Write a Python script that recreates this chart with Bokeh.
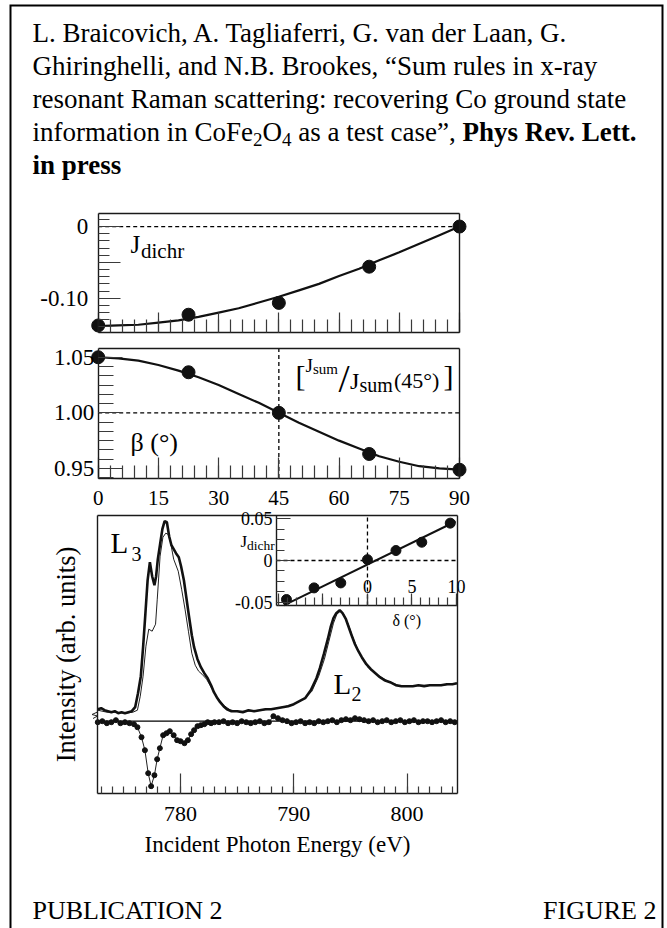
from bokeh.plotting import figure
from bokeh.models import Range1d, LinearAxis, FixedTicker, CustomJSTickFormatter
from bokeh.core.properties import value
from bokeh.embed import file_html
from bokeh.resources import INLINE

W, H = 667, 928
SERIF = "Liberation Serif"

# ---------------------------------------------------------------- data
# Panel 1 : J_dichr versus beta
beta_pts = [0, 22.5, 45, 67.5, 90]
jdichr_pts = [-0.138, -0.123, -0.1065, -0.056, 0.0]
beta_fit = [0, 5, 10, 15, 20, 25, 30, 35, 40, 45, 50, 55, 60, 65, 70, 75, 80, 85, 90]
jdichr_fit = [-0.139, -0.138, -0.137, -0.134, -0.131, -0.126, -0.120, -0.114, -0.106, -0.098,
              -0.089, -0.080, -0.069, -0.059, -0.047, -0.036, -0.024, -0.012, 0.000]

# Panel 2 : J_sum / J_sum(45) versus beta
jsum_pts = [1.050, 1.0365, 1.000, 0.963, 0.9488]
jsum_fit = [1.050, 1.049, 1.047, 1.043, 1.038, 1.032, 1.025, 1.017, 1.009, 1.000,
            0.991, 0.983, 0.975, 0.968, 0.961, 0.956, 0.952, 0.950, 0.949]

# Inset : J_dichr versus delta
delta_pts = [-9.1, -6.0, -3.0, 0.0, 3.2, 6.1, 9.3]
jdelta_pts = [-0.047, -0.033, -0.027, 0.001, 0.012, 0.022, 0.045]
delta_fit = [-9.4, 9.9]
jdelta_fit = [-0.054, 0.047]

# Main panel : spectra (thick and thin) and dichroism (dots)
E_thick = [772.7, 773.0, 773.3, 773.6, 773.9, 774.2, 774.5, 774.8, 775.1, 775.4,
           775.7, 776.0, 776.25, 776.5, 776.7, 776.9, 777.1, 777.3, 777.5, 777.7,
           777.85, 778.0, 778.2, 778.4, 778.6, 778.8, 779.0, 779.2, 779.4, 779.6,
           779.85, 780.05, 780.3, 780.5, 780.75, 781.0, 781.2, 781.5, 781.8, 782.1,
           782.4, 782.7, 782.95, 783.2, 783.5, 783.8, 784.1, 784.5, 785.0, 785.5,
           786.0, 786.5, 787.0, 787.5, 788.0, 788.5, 789.0, 789.5, 790.0, 790.5,
           791.0, 791.5, 792.0, 792.3, 792.65, 793.0, 793.25, 793.5, 793.75, 794.05,
           794.3, 794.6, 794.85, 795.1, 795.4, 795.7, 796.0, 796.4, 796.8, 797.2,
           797.6, 798.0, 798.5, 799.0, 799.5, 800.0, 800.5, 801.0, 801.5, 802.0,
           802.5, 803.0, 803.5, 804.0, 804.4]
I_thick = [0.12, 0.13, 0.11, 0.10, 0.09, 0.10, 0.08, 0.09, 0.08, 0.09,
           0.10, 0.14, 0.28, 0.45, 0.74, 1.07, 1.41, 1.59, 1.45, 1.36,
           1.45, 1.62, 1.77, 1.92, 2.00, 1.99, 1.85, 1.76, 1.72, 1.68,
           1.64, 1.55, 1.41, 1.25, 1.05, 0.86, 0.74, 0.62, 0.54, 0.48,
           0.43, 0.36, 0.29, 0.24, 0.19, 0.15, 0.12, 0.10, 0.10, 0.09,
           0.11, 0.10, 0.11, 0.12, 0.12, 0.13, 0.14, 0.15, 0.17, 0.20,
           0.23, 0.31, 0.43, 0.53, 0.67, 0.82, 0.94, 1.03, 1.08, 1.11,
           1.08, 1.02, 0.94, 0.86, 0.77, 0.70, 0.64, 0.57, 0.52, 0.48,
           0.44, 0.41, 0.39, 0.36, 0.35, 0.35, 0.35, 0.36, 0.35, 0.36,
           0.36, 0.36, 0.37, 0.37, 0.38]
E_thin = [772.7, 773.5, 774.3, 775.1, 775.8, 776.2, 776.45, 776.7, 776.95, 777.2,
          777.5, 777.8, 777.95, 778.2, 778.45, 778.7, 778.9, 779.1, 779.4, 779.8,
          780.1, 780.4, 780.7, 781.0, 781.3, 781.6, 781.9, 782.3, 782.8, 783.3,
          783.8, 784.4, 785.2, 786.0, 787.0, 788.0, 789.0, 790.0, 791.0, 791.6,
          792.2, 792.7, 793.1, 793.5, 793.8, 794.1, 794.4, 794.8, 795.3, 795.9,
          796.6, 797.4, 798.3, 799.2, 800.2, 801.2, 802.2, 803.2, 804.4]
I_thin = [0.11, 0.09, 0.09, 0.08, 0.09, 0.11, 0.25, 0.45, 0.75, 0.92,
          0.90, 0.97, 1.22, 1.65, 1.84, 1.88, 1.87, 1.80, 1.62, 1.50,
          1.32, 1.12, 0.90, 0.68, 0.56, 0.50, 0.47, 0.42, 0.32, 0.23,
          0.16, 0.11, 0.10, 0.10, 0.11, 0.12, 0.14, 0.17, 0.23, 0.30,
          0.45, 0.62, 0.80, 0.98, 1.07, 1.10, 1.07, 0.97, 0.81, 0.65,
          0.53, 0.46, 0.40, 0.36, 0.35, 0.36, 0.36, 0.36, 0.38]
E_dich = [772.7, 773.1, 773.5, 773.9, 774.3, 774.7, 775.1, 775.5, 775.9, 776.2,
          776.56, 776.86, 777.15, 777.41, 777.7, 777.94, 778.18, 778.47, 778.77, 779.06,
          779.4, 779.7, 780.0, 780.35, 780.65, 780.94, 781.2, 781.5, 781.8, 782.1,
          782.4, 782.7, 783.0, 783.4, 783.8, 784.2, 784.6, 785.0, 785.4, 785.8,
          786.2, 786.6, 787.0, 787.4, 787.8, 788.2, 788.6, 789.0, 789.4, 789.8,
          790.2, 790.6, 791.0, 791.4, 791.8, 792.2, 792.6, 793.0, 793.4, 793.8,
          794.2, 794.6, 795.0, 795.4, 795.8, 796.2, 796.6, 797.0, 797.4, 797.8,
          798.2, 798.6, 799.0, 799.4, 799.8, 800.2, 800.6, 801.0, 801.4, 801.8,
          802.2, 802.6, 803.0, 803.4, 803.8, 804.2]
D_dich = [-0.01, 0.00, -0.02, -0.01, 0.01, -0.02, -0.01, -0.02, -0.03, -0.06,
          -0.16, -0.29, -0.52, -0.65, -0.54, -0.38, -0.27, -0.14, -0.12, -0.10,
          -0.14, -0.19, -0.20, -0.22, -0.19, -0.13, -0.09, -0.05, -0.04, -0.03,
          -0.01, -0.02, -0.01, -0.01, 0.00, -0.02, -0.01, -0.02, 0.00, -0.01,
          -0.02, -0.01, 0.00, -0.02, -0.01, 0.05, 0.03, 0.01, 0.00, -0.02,
          -0.01, 0.00, -0.02, -0.01, -0.02, 0.00, -0.01, 0.00, 0.01, -0.01,
          0.01, 0.02, 0.01, 0.03, 0.02, 0.01, 0.00, 0.01, -0.01, 0.00,
          0.01, -0.01, 0.00, 0.01, -0.01, 0.00, 0.01, -0.01, 0.00, 0.00,
          -0.01, 0.00, 0.01, -0.01, 0.00, -0.01]

# ticks and tick labels
beta_major = [0, 15, 30, 45, 60, 75, 90]
beta_labels = ["0", "15", "30", "45", "60", "75", "90"]
beta_minor = [0, 3, 6, 9, 12, 15, 18, 21, 24, 27, 30, 33, 36, 39, 42, 45,
              48, 51, 54, 57, 60, 63, 66, 69, 72, 75, 78, 81, 84, 87, 90]
j1_major = [-0.10, -0.05, 0.0]
j1_labels = ["-0.10", "", "0"]
j1_minor = [-0.14, -0.13, -0.12, -0.11, -0.10, -0.09, -0.08, -0.07, -0.06, -0.05,
            -0.04, -0.03, -0.02, -0.01, 0.0, 0.01]
j2_major = [0.95, 1.00, 1.05]
j2_labels = ["0.95", "1.00", "1.05"]
j2_minor = [0.9417, 0.95, 0.9583, 0.9667, 0.975, 0.9833, 0.9917, 1.0,
            1.0083, 1.0167, 1.025, 1.0333, 1.0417, 1.05]
e_major = [780, 790, 800]
e_labels = ["780", "790", "800"]
e_minor = [773, 774, 775, 776, 777, 778, 779, 780, 781, 782, 783, 784, 785, 786, 787, 788,
           789, 790, 791, 792, 793, 794, 795, 796, 797, 798, 799, 800, 801, 802, 803, 804]
d_major = [-10, -5, 0, 5, 10]
d_labels = ["", "", "0", "5", "10"]
d_minor = [-10, -9, -8, -7, -6, -5, -4, -3, -2, -1, 0, 1, 2, 3, 4, 5, 6, 7, 8, 9, 10]
ji_major = [-0.05, 0.0, 0.05]
ji_labels = ["-0.05", "0", "0.05"]
ji_minor = [-0.05, -0.0375, -0.025, -0.0125, 0.0, 0.0125, 0.025, 0.0375, 0.05]

header_lines = ["L. Braicovich, A. Tagliaferri, G. van der Laan, G.",
                "Ghiringhelli, and N.B. Brookes, \u201cSum rules in x-ray",
                "resonant Raman scattering: recovering Co ground state"]
header_l4 = ["information in CoFe", "2", "O", "4", "as a test case\u201d,"]
header_bold4 = "Phys Rev. Lett."
header_bold5 = "in press"

# ---------------------------------------------------------------- layout (page pixels)
P1 = dict(L=97.7, R=459.0, T=212.7, B=332.0, x0=0, x1=90, top=0.0186, bot=-0.1478)
P2 = dict(L=97.7, R=459.0, T=348.3, B=477.5, x0=0, x1=90, top=1.0576, bot=0.9414)
P3 = dict(L=96.7, R=456.7, T=515.0, B=793.0, x0=772.65, x1=804.42, top=2.057, bot=-0.723)
PI = dict(L=276.0, R=456.7, T=515.0, B=605.0, x0=-10.22, x1=10.08, top=0.0542, bot=-0.0542)


def xr(P):
    k = (P["x1"] - P["x0"]) / (P["R"] - P["L"])
    return Range1d(P["x0"] - P["L"] * k, P["x0"] + (W - P["L"]) * k)


def yr(P):
    k = (P["top"] - P["bot"]) / (P["B"] - P["T"])
    return Range1d(P["bot"] - (H - P["B"]) * k, P["top"] + P["T"] * k)


p = figure(width=W, height=H, x_range=Range1d(0, W), y_range=Range1d(H, 0),
           x_axis_type=None, y_axis_type=None, toolbar_location=None,
           output_backend="svg", min_border=0, outline_line_color=None,
           background_fill_color="white", border_fill_color="white")
p.extra_x_ranges = {"b1": xr(P1), "b2": xr(P2), "e": xr(P3), "d": xr(PI)}
p.extra_y_ranges = {"j1": yr(P1), "j2": yr(P2), "s": yr(P3), "ji": yr(PI)}

FMT = """
let best = 0; let dd = Infinity;
for (let i = 0; i < vals.length; i++) {
  const e = Math.abs(vals[i] - tick);
  if (e < dd) { dd = e; best = i; }
}
return labs[best];
"""


def axis(side, xn, yn, loc, bounds, major=(), minor=(), labels=None, maj=(0, 0), mnr=(0, 0),
         fsize="20px", standoff=5, lw=1.4, title=None, tsize="22px", tstand=5):
    ax = LinearAxis(x_range_name=xn, y_range_name=yn, fixed_location=loc, bounds=bounds,
                    ticker=FixedTicker(ticks=list(major), minor_ticks=list(minor)))
    ax.axis_line_color = "#1a1a1a"
    ax.axis_line_width = lw
    ax.major_tick_line_color = "#3a3a3a"
    ax.minor_tick_line_color = "#3a3a3a"
    ax.major_tick_line_width = 1.2
    ax.minor_tick_line_width = 1.2
    ax.major_tick_in, ax.major_tick_out = maj
    ax.minor_tick_in, ax.minor_tick_out = mnr
    labs = list(labels) if labels is not None else [""] * len(major)
    ax.formatter = CustomJSTickFormatter(args=dict(vals=list(major), labs=labs), code=FMT)
    ax.major_label_text_font = SERIF
    ax.major_label_text_font_size = fsize
    ax.major_label_text_color = "black"
    ax.major_label_standoff = standoff
    if title:
        ax.axis_label = title
        ax.axis_label_text_font = SERIF
        ax.axis_label_text_font_style = "normal"
        ax.axis_label_text_font_size = tsize
        ax.axis_label_text_color = "black"
        ax.axis_label_standoff = tstand
    p.add_layout(ax, side)
    return ax


def frame(P, xn, yn):
    axis("above", xn, yn, P["top"], (P["x0"], P["x1"]))
    axis("right", xn, yn, P["x1"], (P["bot"], P["top"]))


# ---- panel 1
axis("left", "b1", "j1", P1["x0"], (P1["bot"], P1["top"]), j1_major, j1_minor, j1_labels,
     maj=(22, 0), mnr=(11, 0), fsize="23px", standoff=10)
axis("below", "b1", "j1", P1["bot"], (P1["x0"], P1["x1"]), beta_major, beta_minor, None,
     maj=(20, 0), mnr=(13, 0))
frame(P1, "b1", "j1")
p.line([P1["x0"], P1["x1"]], [0, 0], x_range_name="b1", y_range_name="j1",
       line_color="black", line_width=1.3, line_dash="4 3")
p.line(beta_fit, jdichr_fit, x_range_name="b1", y_range_name="j1", line_color="#111111", line_width=2.2)
p.scatter(beta_pts, jdichr_pts, x_range_name="b1", y_range_name="j1", size=13,
          fill_color="#111111", line_color="#111111")

# ---- panel 2
axis("left", "b2", "j2", P2["x0"], (P2["bot"], P2["top"]), j2_major, j2_minor, j2_labels,
     maj=(24, 0), mnr=(15, 0), fsize="23px", standoff=4)
axis("below", "b2", "j2", P2["bot"], (P2["x0"], P2["x1"]), beta_major, beta_minor, beta_labels,
     maj=(21, 0), mnr=(13, 0), fsize="21px", standoff=13)
frame(P2, "b2", "j2")
p.line([P2["x0"], P2["x1"]], [1.0, 1.0], x_range_name="b2", y_range_name="j2",
       line_color="black", line_width=1.3, line_dash="4 3")
p.line([45, 45], [P2["bot"], P2["top"]], x_range_name="b2", y_range_name="j2",
       line_color="black", line_width=1.3, line_dash="4 3")
p.line(beta_fit, jsum_fit, x_range_name="b2", y_range_name="j2", line_color="#111111", line_width=2.2)
p.scatter(beta_pts, jsum_pts, x_range_name="b2", y_range_name="j2", size=13,
          fill_color="#111111", line_color="#111111")

# ---- panel 3 (spectra)
axis("left", "e", "s", P3["x0"], (P3["bot"], P3["top"]), title="Intensity (arb. units)",
     tsize="26.5px", tstand=17)
axis("below", "e", "s", P3["bot"], (P3["x0"], P3["x1"]), e_major, e_minor, e_labels,
     maj=(20, 0), mnr=(7, 0), fsize="22px", standoff=13,
     title="Incident Photon Energy (eV)", tsize="23px", tstand=8)
frame(P3, "e", "s")
p.line([P3["x0"], P3["x1"]], [0, 0], x_range_name="e", y_range_name="s",
       line_color="black", line_width=1.2)
p.line(E_thin, I_thin, x_range_name="e", y_range_name="s", line_color="#222222", line_width=1.0)
p.line(E_thick, I_thick, x_range_name="e", y_range_name="s", line_color="#111111", line_width=2.6)
p.line(E_dich, D_dich, x_range_name="e", y_range_name="s", line_color="#222222", line_width=1.0)
p.scatter(E_dich, D_dich, x_range_name="e", y_range_name="s", size=5,
          fill_color="#111111", line_color="#111111")

# ---- inset
axis("left", "d", "ji", PI["x0"], (PI["bot"], PI["top"]), ji_major, ji_minor, ji_labels,
     maj=(14, 0), mnr=(8, 0), fsize="18px", standoff=4)
axis("above", "d", "ji", PI["bot"], (PI["x0"], PI["x1"]), d_major, d_minor, d_labels,
     maj=(0, 12), mnr=(0, 8), fsize="18px", standoff=1)
p.line([PI["x0"], PI["x1"]], [0, 0], x_range_name="d", y_range_name="ji",
       line_color="black", line_width=1.3, line_dash="4 3")
p.line([0, 0], [PI["bot"], PI["top"]], x_range_name="d", y_range_name="ji",
       line_color="black", line_width=1.3, line_dash="4 3")
p.line(delta_fit, jdelta_fit, x_range_name="d", y_range_name="ji", line_color="#111111", line_width=2.0)
p.scatter(delta_pts, jdelta_pts, x_range_name="d", y_range_name="ji", size=10,
          fill_color="#111111", line_color="#111111")

# ---------------------------------------------------------------- texts (page pixels)
LIFT = 0.32   # baseline correction observed for the svg text renderer (in em)


def txt(x, y, s, size, align="left", style="normal"):
    p.text(x=[x], y=[y - LIFT * size], text=[s], text_font=value(SERIF),
           text_font_size=value(f"{size}px"), text_align=align, text_baseline="alphabetic",
           text_font_style=style, text_color="black")


TNR = {' ': 250, 'a': 444, 'c': 444, 'e': 444, 'f': 333, 'i': 278, 'm': 778, 'n': 500, 'o': 500,
       'r': 333, 's': 389, 't': 278, 'C': 667, 'F': 556, 'O': 722, '2': 500, '4': 500,
       '\u201d': 444, ',': 250}


def tw(s, size):
    return sum(TNR.get(c, 500) for c in s) * size / 1000.0


FH, FS = 27.0, 19.0
X0 = 32
base = [40.7, 74.0, 107.3, 140.0, 172.7]
for i, line in enumerate(header_lines):
    txt(X0, base[i], line, FH)
x = X0
txt(x, base[3], header_l4[0], FH); x += tw(header_l4[0], FH)
txt(x, base[3] + 5, header_l4[1], FS); x += tw(header_l4[1], FS)
txt(x, base[3], header_l4[2], FH); x += tw(header_l4[2], FH)
txt(x, base[3] + 5, header_l4[3], FS); x += tw(header_l4[3], FS) + tw(" ", FH)
txt(x, base[3], header_l4[4], FH); x += tw(header_l4[4], FH) + tw(" ", FH)
txt(x, base[3], header_bold4, FH, style="bold")
txt(X0, base[4], header_bold5, FH, style="bold")

txt(X0, 918, "PUBLICATION 2", 26)
txt(656, 918, "FIGURE 2", 26, align="right")

# panel annotations
txt(130, 251.5, "J", 25)
txt(140.5, 257, "dichr", 21)
txt(130, 450, "\u03b2 (\u00b0)", 26)
txt(295, 385, "[", 30)
txt(305, 371, "J", 19)
txt(312.5, 373, "sum", 15)
txt(338, 391, "/", 40)
txt(349.5, 388, "J", 24)
txt(359, 391, "sum", 20)
txt(393.5, 387, "(45\u00b0)", 22)
txt(443, 385, "]", 30)
txt(110, 552, "L", 29)
txt(131, 560, "3", 20)
txt(333, 693, "L", 29)
txt(351, 700, "2", 20)
txt(240, 546, "J", 17)
txt(246.5, 549.5, "dichr", 13.5)
txt(392, 625, "\u03b4 (\u00b0)", 16)

# axis-break mark on the left edge of the spectra panel, and page border
p.line([97, 91.5, 97, 92.5], [711.5, 714.0, 715.5, 718.0], line_color="#222222", line_width=1.0)
p.line([10, 10, 662, 662], [H, 5, 5, H], line_color="black", line_width=2, line_join="miter")

open("out.html", "w").write(file_html(p, INLINE))
